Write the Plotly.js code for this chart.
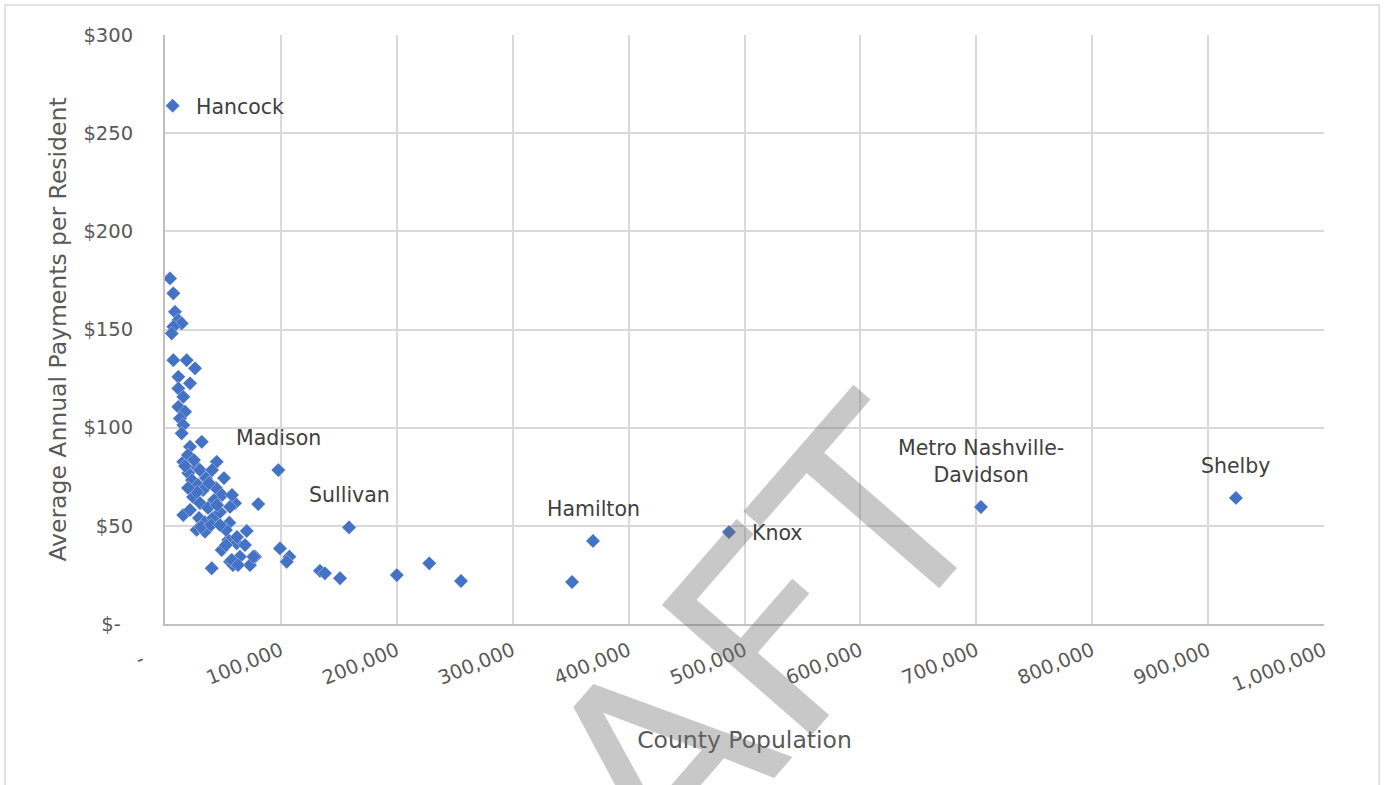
<!DOCTYPE html>
<html>
<head>
<meta charset="utf-8">
<script src="https://cdn.plot.ly/plotly-3.0.1.min.js"></script>
<style>
  html, body { margin: 0; padding: 0; background: #ffffff; }
  #chart { width: 1385px; height: 785px; }
</style>
</head>
<body>
<div id="chart"></div>
<script>
// County population (x) and average annual payments per resident in $ (y)
const population = [
  6600, 4300, 7200, 8600, 11500, 14400, 7200, 5800, 7200, 18700,
  25900, 11500, 21600, 11500, 15800, 11500, 17300, 12900, 15800, 14400,
  31700, 21600, 44600, 15800, 97800, 158800, 80500, 99200, 107300, 105000,
  133700, 138000, 151000, 200000, 228000, 255400, 351200, 369300, 486600, 704000,
  924000, 40300, 56100, 58700, 73300, 77700, 70500, 55500, 54600, 61900,
  48900, 60400, 56100, 15800, 27300, 34500, 27300, 30200, 20100, 23300,
  28500, 35400, 40600, 44000, 49200, 42300, 24200, 30200, 37100, 21600,
  29300, 34500, 31100, 41400, 47500, 50900, 19800, 25000, 32800, 17300,
  62100, 52600, 64700, 76200, 57500, 69000, 52600, 27600, 38000, 19800,
  57800, 44900, 39700, 47500, 63000
];
const payments = [
  264, 176, 168.4, 159, 154.8, 153.1, 151.4, 148, 134.4, 134.4,
  130.2, 125.9, 122.6, 120, 115.7, 110.6, 108.1, 104.7, 101.3, 97.1,
  92.8, 90.3, 82.6, 82.6, 78.4, 49.2, 61.1, 38.5, 34.3, 31.7,
  27.1, 25.8, 23.3, 24.9, 30.9, 21.9, 21.4, 42.3, 46.8, 59.6,
  64.2, 28.4, 31.7, 30, 30, 34.3, 47.4, 51.6, 42.8, 41.1,
  37.7, 61.5, 59.7, 55.5, 47.9, 47, 80.1, 78.4, 76.9, 73.3,
  70.8, 74.3, 78.4, 69.3, 65.7, 63.1, 64.7, 61.6, 59.1, 58.1,
  54, 51.9, 49.4, 54, 57, 74.3, 86.1, 83.5, 68.2, 80.5,
  44.3, 40.2, 34.3, 34.3, 32.6, 40.2, 47.9, 67.2, 71.8, 69.3,
  65.7, 60.6, 50.4, 50.4, 30
];
// Labelled counties: index into the arrays above
const labelIndex = [0, 24, 25, 37, 38, 39, 40];
const labelText = ["Hancock", "Madison", "Sullivan", "Hamilton", "Knox", "Metro Nashville-<br>Davidson", "Shelby"];
const labelSide = ["right", "top", "top", "top", "right", "top", "top"];

const xTickVals = [0, 100000, 200000, 300000, 400000, 500000, 600000, 700000, 800000, 900000, 1000000];
const xTickText = ["-\u00a0\u00a0\u00a0\u00a0", "100,000", "200,000", "300,000", "400,000", "500,000", "600,000", "700,000", "800,000", "900,000", "1,000,000"];
const yTickVals = [0, 50, 100, 150, 200, 250, 300];
const yTickText = ["$-\u00a0\u00a0", "$50", "$100", "$150", "$200", "$250", "$300"];

const FONT = "DejaVu Sans, Verdana, sans-serif";

const trace = {
  type: "scatter",
  mode: "markers",
  x: population,
  y: payments,
  marker: {
    symbol: "diamond",
    size: 11,
    color: "#4472C4",
    line: { width: 0.6, color: "rgba(255,255,255,0.55)" }
  },
  hoverinfo: "x+y",
  showlegend: false
};

const annotations = [];
// DRAFT watermark
annotations.push({
  text: "DRAFT",
  xref: "paper", yref: "paper",
  x: 0.41, y: -0.28,
  xanchor: "center", yanchor: "middle",
  showarrow: false,
  textangle: -49,
  font: { family: FONT, size: 272, color: "rgba(110,110,110,0.38)" }
});
labelIndex.forEach((idx, k) => {
  const side = labelSide[k];
  const a = {
    x: population[idx], y: payments[idx],
    xref: "x", yref: "y",
    text: labelText[k],
    showarrow: false,
    font: { family: FONT, size: 20.5, color: "#404040" }
  };
  if (side === "right") {
    a.xanchor = "left"; a.yanchor = "middle"; a.xshift = 21; a.yshift = -1;
  } else {
    a.xanchor = "center"; a.yanchor = "bottom"; a.yshift = 18;
  }
  annotations.push(a);
});

const layout = {
  width: 1385,
  height: 785,
  margin: { l: 165, r: 61, t: 35, b: 161 },
  paper_bgcolor: "#ffffff",
  plot_bgcolor: "#ffffff",
  font: { family: FONT, color: "#595959" },
  xaxis: {
    range: [0, 1000000],
    tickvals: xTickVals,
    ticktext: xTickText,
    tickangle: -22,
    tickfont: { family: FONT, size: 19.5, color: "#595959" },
    ticks: "",
    ticklabelstandoff: 6,
    showgrid: true,
    gridcolor: "#d9d9d9",
    gridwidth: 1.5,
    zeroline: false,
    showline: true,
    linecolor: "#bfbfbf",
    linewidth: 2,
    title: { text: "County Population", font: { family: FONT, size: 23.5, color: "#595959" }, standoff: 36 }
  },
  yaxis: {
    range: [0, 300],
    tickvals: yTickVals,
    ticktext: yTickText,
    tickfont: { family: FONT, size: 19.5, color: "#595959" },
    ticks: "",
    ticklabelstandoff: 26,
    showgrid: true,
    gridcolor: "#d9d9d9",
    gridwidth: 1.5,
    zeroline: false,
    showline: true,
    linecolor: "#bfbfbf",
    linewidth: 2,
    title: { text: "Average Annual Payments per Resident", font: { family: FONT, size: 23.5, color: "#595959" }, standoff: 10 }
  },
  annotations: annotations,
  shapes: [{
    type: "rect", xref: "paper", yref: "paper",
    x0: -0.138, x1: 1.0475, y0: -0.35, y1: 1.051,
    line: { color: "#d9d9d9", width: 1.5 },
    fillcolor: "rgba(0,0,0,0)",
    layer: "below"
  }]
};

Plotly.newPlot("chart", [trace], layout, { displayModeBar: false });
</script>
</body>
</html>
